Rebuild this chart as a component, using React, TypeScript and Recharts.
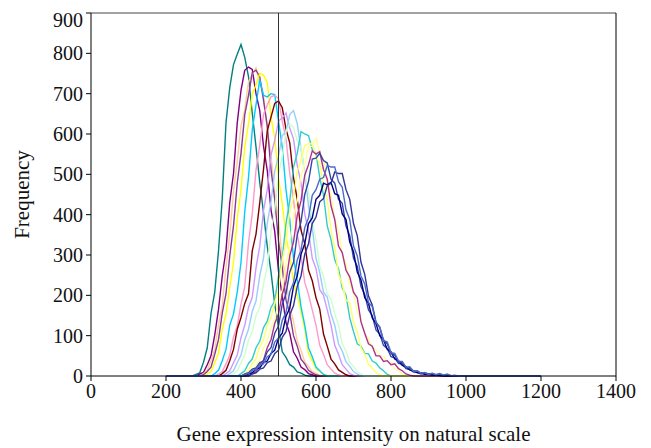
import React from "react";
import { LineChart, Line, XAxis, YAxis, ReferenceLine } from "recharts";

// histogram bin width on the intensity axis
const BIN = 10;

const xTicks = [0, 200, 400, 600, 800, 1000, 1200, 1400];
const yTicks = [0, 100, 200, 300, 400, 500, 600, 700, 800, 900];

// frequency values per bin, starting at the given intensity
const tealStart = 270;
const tealFreq = [0, 4, 8, 34, 70, 155, 208, 310, 440, 628, 715, 772, 798, 822, 790, 742, 652, 568, 480, 405, 322, 258, 178, 120, 60, 46, 28, 22, 10, 7, 2, 0];
const purpleStart = 280;
const purpleFreq = [0, 5, 9, 28, 50, 102, 165, 248, 312, 430, 502, 628, 708, 758, 766, 760, 700, 658, 570, 510, 412, 358, 260, 198, 132, 106, 60, 44, 22, 16, 6, 3, 0];
const peachStart = 290;
const peachFreq = [0, 6, 14, 38, 66, 126, 174, 270, 350, 458, 532, 620, 660, 730, 748, 764, 725, 695, 612, 548, 455, 385, 292, 240, 172, 136, 86, 64, 35, 24, 11, 7, 2, 0];
const plumStart = 290;
const plumFreq = [0, 3, 11, 22, 54, 90, 156, 204, 298, 372, 478, 552, 648, 696, 752, 758, 742, 684, 620, 512, 438, 335, 270, 188, 156, 100, 74, 42, 30, 14, 8, 3, 0];
const yellowStart = 300;
const yellowFreq = [0, 5, 11, 33, 56, 116, 154, 220, 282, 390, 462, 568, 625, 698, 722, 750, 746, 728, 642, 590, 492, 428, 345, 298, 232, 200, 160, 116, 56, 38, 18, 11, 4, 2, 0];
const cyanStart = 320;
const cyanFreq = [0, 6, 14, 38, 66, 126, 154, 208, 282, 408, 492, 610, 672, 735, 696, 692, 700, 698, 632, 568, 462, 388, 292, 238, 172, 126, 70, 48, 22, 13, 4, 0];
const pinkStart = 330;
const pinkFreq = [0, 5, 11, 30, 52, 96, 124, 178, 222, 330, 402, 510, 572, 648, 672, 692, 696, 688, 632, 588, 502, 438, 352, 298, 232, 202, 164, 126, 76, 54, 28, 17, 7, 3, 0];
const maroonStart = 340;
const maroonFreq = [0, 6, 14, 38, 66, 116, 145, 180, 204, 310, 352, 430, 512, 608, 642, 676, 682, 665, 612, 578, 492, 438, 362, 328, 262, 236, 194, 166, 104, 74, 42, 30, 15, 9, 3, 0];
const lilacStart = 350;
const lilacFreq = [0, 6, 13, 33, 52, 95, 126, 170, 195, 268, 322, 410, 462, 548, 584, 632, 640, 652, 615, 588, 522, 478, 402, 358, 292, 266, 214, 200, 164, 126, 76, 54, 28, 17, 6, 2, 0];
const skyStart = 360;
const skyFreq = [0, 6, 13, 33, 52, 90, 116, 160, 186, 248, 292, 378, 432, 508, 545, 596, 606, 648, 658, 626, 562, 508, 422, 368, 292, 256, 208, 196, 154, 126, 80, 62, 35, 24, 11, 5, 0];
const mintStart = 370;
const mintFreq = [0, 6, 13, 33, 52, 90, 110, 150, 170, 228, 272, 358, 412, 498, 545, 606, 626, 616, 584, 566, 502, 458, 382, 338, 272, 246, 204, 190, 154, 126, 80, 62, 35, 24, 11, 5, 0];
const aquaStart = 390;
const aquaFreq = [0, 6, 13, 31, 42, 70, 86, 120, 136, 170, 186, 248, 292, 378, 434, 518, 552, 606, 600, 596, 562, 552, 492, 448, 372, 338, 288, 266, 218, 200, 144, 110, 80, 74, 56, 55, 37, 32, 20, 13, 4, 0];
const lemonStart = 400;
const lemonFreq = [0, 6, 13, 31, 42, 73, 90, 126, 144, 182, 214, 288, 332, 408, 444, 508, 534, 572, 576, 576, 544, 528, 472, 438, 362, 318, 252, 228, 188, 182, 134, 110, 70, 54, 29, 20, 8, 3, 0];
const creamStart = 410;
const creamFreq = [0, 6, 11, 28, 39, 70, 86, 120, 140, 182, 214, 278, 322, 398, 434, 498, 524, 568, 570, 590, 554, 538, 482, 448, 392, 362, 302, 278, 228, 206, 158, 140, 104, 94, 70, 66, 48, 48, 36, 32, 18, 13, 5, 2, 0];
const magentaStart = 420;
const magentaFreq = [0, 6, 11, 28, 39, 70, 90, 130, 154, 202, 234, 298, 332, 398, 434, 498, 524, 558, 550, 556, 512, 488, 422, 388, 322, 306, 262, 246, 208, 194, 134, 106, 80, 74, 50, 50, 36, 38, 28, 30, 18, 13, 5, 2, 0];
const cobaltStart = 400;
const cobaltFreq = [0, 5, 8, 17, 20, 33, 37, 60, 70, 106, 124, 178, 204, 258, 282, 350, 382, 450, 482, 538, 540, 552, 534, 528, 488, 478, 438, 428, 372, 348, 292, 272, 222, 202, 164, 150, 114, 104, 76, 68, 48, 45, 31, 29, 18, 16, 10, 9, 5, 6, 3, 4, 2, 3, 1, 1, 0];
const navyStart = 410;
const navyFreq = [0, 5, 8, 17, 20, 33, 37, 56, 64, 94, 106, 148, 168, 222, 248, 302, 328, 378, 392, 438, 448, 478, 474, 480, 452, 448, 402, 388, 332, 308, 258, 238, 194, 180, 144, 130, 100, 90, 66, 60, 42, 38, 26, 23, 15, 13, 8, 8, 4, 5, 2, 3, 1, 0];
const indigoStart = 420;
const indigoFreq = [0, 5, 8, 17, 20, 33, 37, 56, 64, 96, 110, 152, 174, 222, 248, 302, 328, 378, 394, 432, 440, 472, 478, 506, 502, 502, 462, 438, 378, 348, 282, 252, 198, 176, 134, 120, 88, 80, 56, 52, 35, 33, 21, 20, 12, 12, 7, 8, 5, 6, 3, 5, 2, 3, 1, 0];
const royalStart = 400;
const royalFreq = [0, 4, 6, 14, 16, 28, 30, 48, 54, 84, 94, 138, 158, 208, 232, 288, 312, 368, 392, 448, 462, 488, 492, 522, 518, 518, 482, 468, 412, 388, 322, 298, 248, 228, 182, 172, 132, 122, 88, 84, 58, 56, 37, 36, 22, 23, 12, 13, 7, 9, 4, 7, 3, 6, 2, 5, 1, 2, 0];

const SERIES = [
  { name: "s1", color: "#008080", start: tealStart, freq: tealFreq },
  { name: "s2", color: "#800080", start: purpleStart, freq: purpleFreq },
  { name: "s3", color: "#FFCC99", start: peachStart, freq: peachFreq },
  { name: "s4", color: "#8B3A96", start: plumStart, freq: plumFreq },
  { name: "s5", color: "#FFFF00", start: yellowStart, freq: yellowFreq },
  { name: "s6", color: "#00CCFF", start: cyanStart, freq: cyanFreq },
  { name: "s7", color: "#FF99CC", start: pinkStart, freq: pinkFreq },
  { name: "s8", color: "#800000", start: maroonStart, freq: maroonFreq },
  { name: "s9", color: "#CC99FF", start: lilacStart, freq: lilacFreq },
  { name: "s10", color: "#99CCFF", start: skyStart, freq: skyFreq },
  { name: "s11", color: "#CCFFCC", start: mintStart, freq: mintFreq },
  { name: "s12", color: "#33CCCC", start: aquaStart, freq: aquaFreq },
  { name: "s13", color: "#FFFF66", start: lemonStart, freq: lemonFreq },
  { name: "s14", color: "#FFFF99", start: creamStart, freq: creamFreq },
  { name: "s15", color: "#B03090", start: magentaStart, freq: magentaFreq },
  { name: "s16", color: "#3344AA", start: cobaltStart, freq: cobaltFreq },
  { name: "s17", color: "#000080", start: navyStart, freq: navyFreq },
  { name: "s18", color: "#333399", start: indigoStart, freq: indigoFreq },
  { name: "s19", color: "#4A6CC8", start: royalStart, freq: royalFreq },
];

const toPoints = (start: number, freq: number[]) => [
  { x: 200, y: 0 },
  ...freq.map((y, i) => ({ x: start + i * BIN, y })),
  { x: 1200, y: 0 },
];

const FONT = "'Liberation Serif', 'Times New Roman', serif";

export default function App() {
  return (
    <LineChart width={635} height={438} margin={{ top: 5, right: 27, left: 0, bottom: 0 }}>
      <XAxis
        dataKey="x"
        type="number"
        domain={[0, 1400]}
        ticks={xTicks}
        tickSize={5}
        tickMargin={3}
        height={70}
        axisLine={{ stroke: "#000" }}
        tickLine={{ stroke: "#000" }}
        tick={{ fontFamily: FONT, fontSize: 20, fill: "#111" }}
        label={{
          value: "Gene expression intensity on natural scale",
          position: "insideBottom",
          offset: 5,
          style: { fontFamily: FONT, fontSize: 21, fill: "#111" },
        }}
      />
      <YAxis
        type="number"
        domain={[0, 900]}
        ticks={yTicks}
        tickSize={5}
        tickMargin={3}
        width={83}
        axisLine={{ stroke: "#000" }}
        tickLine={{ stroke: "#000" }}
        tick={{ fontFamily: FONT, fontSize: 20, fill: "#111" }}
        label={{
          value: "Frequency",
          angle: -90,
          position: "insideLeft",
          offset: 14,
          style: { fontFamily: FONT, fontSize: 21, fill: "#111", textAnchor: "middle" },
        }}
      />
      <ReferenceLine y={900} stroke="#444" strokeWidth={1} />
      <ReferenceLine x={1400} stroke="#000" strokeWidth={1} />
      {SERIES.map((s) => (
        <Line
          key={s.name}
          data={toPoints(s.start, s.freq)}
          dataKey="y"
          type="linear"
          stroke={s.color}
          strokeWidth={1.4}
          dot={false}
          activeDot={false}
          isAnimationActive={false}
        />
      ))}
      <ReferenceLine x={500} stroke="#333" strokeWidth={1} />
    </LineChart>
  );
}
